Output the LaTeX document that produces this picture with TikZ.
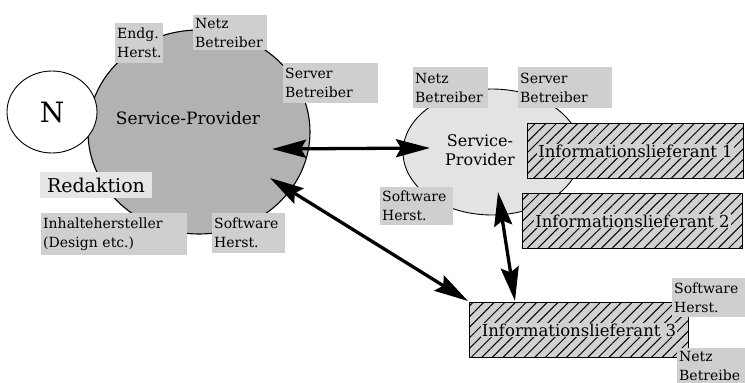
\documentclass[tikz,border=0pt]{standalone}
\usepackage{fontspec}
\setmainfont{DejaVu Serif}
\usetikzlibrary{arrows.meta,patterns.meta,shapes.geometric}
\definecolor{blobc}{gray}{0.70}
\definecolor{labc}{gray}{0.81}
\definecolor{redc}{gray}{0.90}
\definecolor{spc}{gray}{0.89}
\definecolor{infoc}{gray}{0.82}
\begin{document}
\begin{tikzpicture}[x=1pt,y=-1pt,
  lbl/.style={fill=labc, anchor=north west, inner sep=2pt, align=left,
    font=\fontsize{14}{19}\selectfont},
  infobox/.style={draw=black, line width=1.1pt, fill=infoc, anchor=north west,
    inner sep=0pt,
    postaction={pattern={Lines[angle=45,distance=7.5pt,line width=1pt]}}},
  infotext/.style={fill=infoc, inner sep=1pt, font=\fontsize{16.5}{18}\selectfont},
  dbl/.style={{Stealth[length=34pt,width=18pt,inset=5pt]}-{Stealth[length=34pt,width=18pt,inset=5pt]},
    line width=3.3pt},
]
\useasboundingbox (0,0) rectangle (745,383);

% left service provider blob
\node (blob) [draw, ellipse, line width=1.1pt, fill=blobc, minimum width=222pt,
  minimum height=204pt, inner sep=0pt] at (199,132) {};
\node (N) [draw, ellipse, line width=0.9pt, fill=white, minimum width=90pt,
  minimum height=82pt, inner sep=0pt, font=\fontsize{28}{30}\selectfont] at (52,112) {N};
\node (sp1) [font=\fontsize{17}{19}\selectfont] at (188,118) {Service-Provider};
\node (red) [fill=redc, minimum width=112pt, minimum height=26pt, inner sep=0pt,
  font=\fontsize{19}{21}\selectfont] at (96,185) {Redaktion};

\node (endg) [lbl, text width=44pt, minimum height=40pt] at (115,23) {Endg.\\Herst.};
\node (netz1) [lbl, text width=70pt, minimum height=35pt] at (193,15) {Netz\\Betreiber};
\node (serv1) [lbl, text width=91pt, minimum height=40pt] at (283,63) {Server\\Betreiber};
\node (inh) [lbl, text width=142pt, minimum height=42pt] at (41,213) {Inhaltehersteller\\(Design etc.)};
\node (soft1) [lbl, text width=69pt, minimum height=40pt] at (212,213) {Software\\Herst.};

% right service provider
\node (sp2) [draw, ellipse, line width=0.9pt, fill=spc, minimum width=178pt,
  minimum height=126pt, inner sep=0pt] at (492,152) {};
\node (sp2t) [align=center, font=\fontsize{16}{19}\selectfont] at (480,150) {Service-\\Provider};
\node (netz2) [lbl, text width=71pt, minimum height=41pt] at (413,67) {Netz\\Betreiber};
\node (serv2) [lbl, text width=90pt, minimum height=41pt] at (518,67) {Server\\Betreiber};
\node (soft2) [lbl, text width=69pt, minimum height=38pt] at (380,187) {Software\\Herst.};

% information providers
\node (i1) [infobox, minimum width=216pt, minimum height=55pt] at (527,123) {};
\node (i1t) [infotext] at (i1.center) {Informationslieferant 1};
\node (i2) [infobox, minimum width=220pt, minimum height=55pt] at (522,193) {};
\node (i2t) [infotext] at (i2.center) {Informationslieferant 2};
\node (i3) [infobox, minimum width=219pt, minimum height=55pt] at (469,302) {};
\node (i3t) [infotext] at (i3.center) {Informationslieferant 3};
\node (soft3) [lbl, text width=69pt, minimum height=39pt] at (672,278) {Software\\Herst.};
\node (netz3) [lbl, text width=64pt, minimum height=35pt] at (677,348) {Netz\\Betreibe};

% connectors
\coordinate (h1) at (272,149);
\coordinate (h2) at (430,148);
\coordinate (d1) at (270,178);
\coordinate (d2) at (468,301);
\coordinate (v1) at (498,192);
\coordinate (v2) at (515,301);
\draw[dbl] (h1) -- (h2);
\draw[dbl] (d1) -- (d2);
\draw[dbl] (v1) -- (v2);
\end{tikzpicture}
\end{document}
